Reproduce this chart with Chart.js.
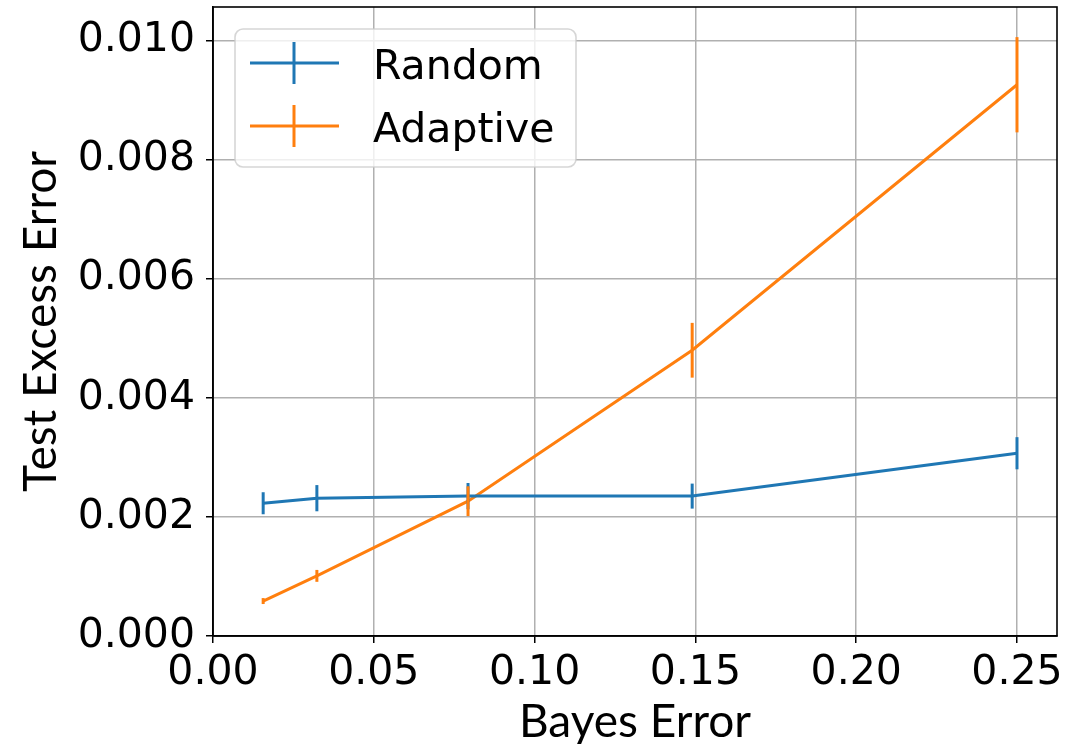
<!DOCTYPE html>
<html>
<head>
<meta charset="utf-8">
<script src="https://cdn.jsdelivr.net/npm/chart.js@4/dist/chart.umd.min.js"></script>
<style>
  html, body { margin: 0; padding: 0; background: #ffffff; }
  #wrap { width: 1088px; height: 744px; position: relative; }
</style>
</head>
<body>
<div id="wrap"><canvas id="c" width="1088" height="744"></canvas></div>
<script>
// ---- data ----
const bayesError   = [0.0156, 0.0323, 0.0793, 0.149, 0.25];
const randomMean   = [0.00223, 0.002315, 0.00235, 0.00235, 0.00307];
const randomErr    = [0.000185, 0.00022, 0.00022, 0.00021, 0.00027];
const adaptiveMean = [0.000587, 0.00101, 0.002265, 0.0048, 0.00926];
const adaptiveErr  = [0.00005, 0.0001, 0.00025, 0.00046, 0.0008];
const xTickValues  = [0.00, 0.05, 0.10, 0.15, 0.20, 0.25];
const yTickValues  = [0.000, 0.002, 0.004, 0.006, 0.008, 0.010];
const seriesLabels = ['Random', 'Adaptive'];
const xTitle = 'Bayes Error';
const yTitle = 'Test Excess Error';

const BLUE = '#1f77b4', ORANGE = '#ff7f0e';
const TICK_FONT = { family: 'DejaVu Sans', size: 41 };
const TITLE_FONT = { family: 'Lato', size: 46 };

function pts(xs, ys) { return xs.map((x, i) => ({ x: x, y: ys[i] })); }

const errorBarPlugin = {
  id: 'errorBars',
  afterDatasetsDraw(chart) {
    const ctx = chart.ctx, xs = chart.scales.x, ys = chart.scales.y;
    const sets = [[randomMean, randomErr, BLUE], [adaptiveMean, adaptiveErr, ORANGE]];
    ctx.save();
    ctx.lineCap = 'butt';
    sets.forEach(([m, e, col]) => {
      ctx.strokeStyle = col; ctx.lineWidth = 3;
      bayesError.forEach((x, i) => {
        const px = xs.getPixelForValue(x);
        ctx.beginPath();
        ctx.moveTo(px, ys.getPixelForValue(m[i] - e[i]));
        ctx.lineTo(px, ys.getPixelForValue(m[i] + e[i]));
        ctx.stroke();
      });
    });
    ctx.restore();
  }
};

const framePlugin = {
  id: 'frame',
  afterDatasetsDraw(chart) {
    const { ctx, chartArea: a } = chart;
    ctx.save();
    ctx.strokeStyle = '#000'; ctx.lineWidth = 1.6;
    ctx.strokeRect(a.left, a.top, a.right - a.left, a.bottom - a.top);
    ctx.restore();
  }
};

const legendPlugin = {
  id: 'boxLegend',
  afterDraw(chart) {
    const ctx = chart.ctx;
    const x0 = 235, y0 = 29, w = 341, h = 138, r = 8;
    ctx.save();
    ctx.beginPath();
    ctx.roundRect(x0, y0, w, h, r);
    ctx.fillStyle = 'rgba(255,255,255,0.8)';
    ctx.fill();
    ctx.strokeStyle = 'rgba(204,204,204,0.8)';
    ctx.lineWidth = 1.6;
    ctx.stroke();
    const rows = [[seriesLabels[0], BLUE, 63], [seriesLabels[1], ORANGE, 126]];
    rows.forEach(([txt, col, cy]) => {
      ctx.strokeStyle = col; ctx.lineWidth = 3;
      ctx.beginPath(); ctx.moveTo(250, cy); ctx.lineTo(339, cy); ctx.stroke();
      ctx.beginPath(); ctx.moveTo(294, cy - 21); ctx.lineTo(294, cy + 21); ctx.stroke();
      ctx.fillStyle = '#000';
      ctx.font = '41px "DejaVu Sans"';
      ctx.textBaseline = 'alphabetic';
      ctx.textAlign = 'left';
      ctx.fillText(txt, 373, cy + 15.5);
    });
    ctx.restore();
  }
};

new Chart(document.getElementById('c'), {
  type: 'scatter',
  data: {
    datasets: [
      { label: seriesLabels[0], data: pts(bayesError, randomMean), showLine: true,
        borderColor: BLUE, backgroundColor: BLUE, borderWidth: 3, pointRadius: 0, tension: 0 },
      { label: seriesLabels[1], data: pts(bayesError, adaptiveMean), showLine: true,
        borderColor: ORANGE, backgroundColor: ORANGE, borderWidth: 3, pointRadius: 0, tension: 0 }
    ]
  },
  options: {
    responsive: false,
    animation: false,
    devicePixelRatio: 1,
    layout: { padding: { left: 0, top: 7, right: 31, bottom: 0 } },
    plugins: { legend: { display: false }, tooltip: { enabled: false } },
    scales: {
      x: {
        type: 'linear', min: 0, max: 0.26244,
        afterBuildTicks: (s) => { s.ticks = xTickValues.map(v => ({ value: v })); },
        afterFit: (s) => { s.height = 108; s.paddingLeft = 0; s.paddingRight = 0; },
        ticks: { font: TICK_FONT, color: '#000', padding: 6, maxRotation: 0,
                 callback: (v) => Number(v).toFixed(2) },
        grid: { color: '#b0b0b0', lineWidth: 1.5, tickColor: '#000', tickLength: 7, tickWidth: 1.5 },
        border: { color: '#000', width: 1.6 },
        title: { display: true, text: xTitle, font: TITLE_FONT, color: '#000', padding: { top: 0, bottom: -6 } }
      },
      y: {
        type: 'linear', min: 0, max: 0.010566,
        afterBuildTicks: (s) => { s.ticks = yTickValues.map(v => ({ value: v })); },
        afterFit: (s) => { s.width = 213; s.paddingTop = 0; s.paddingBottom = 0; },
        ticks: { font: TICK_FONT, color: '#000', padding: 11,
                 callback: (v) => Number(v).toFixed(3) },
        grid: { color: '#b0b0b0', lineWidth: 1.5, tickColor: '#000', tickLength: 7, tickWidth: 1.5 },
        border: { color: '#000', width: 1.6 },
        title: { display: true, text: yTitle, font: TITLE_FONT, color: '#000', padding: { top: 14, bottom: 0 } }
      }
    }
  },
  plugins: [errorBarPlugin, framePlugin, legendPlugin]
});
</script>
</body>
</html>
